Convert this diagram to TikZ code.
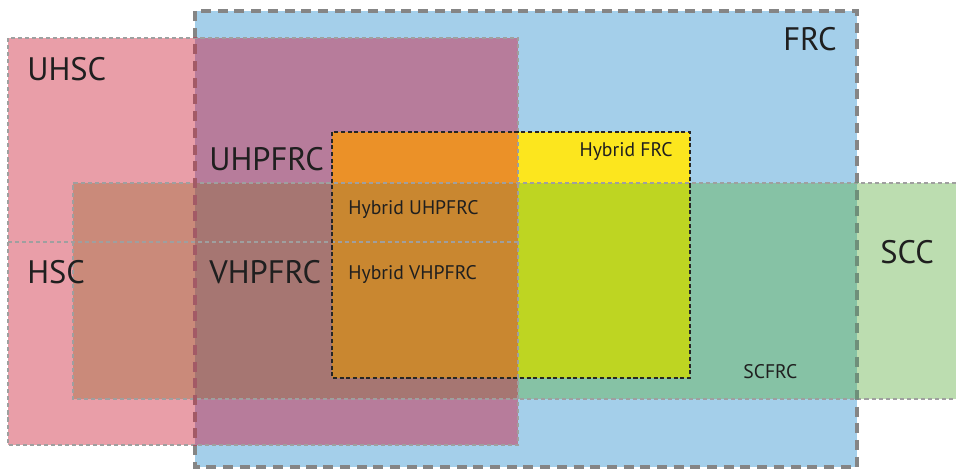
\documentclass[tikz,border=0pt]{standalone}
\usepackage{fontspec}
\setmainfont{PT Sans}
\definecolor{frcblue}{HTML}{A4CFEA}
\definecolor{hscpink}{HTML}{E99EA8}
\definecolor{sccgreen}{HTML}{BCDDB0}
\definecolor{uhpfrcmauve}{HTML}{B77C9B}
\definecolor{scfrcgreen}{HTML}{86C2A5}
\definecolor{hscsccbrown}{HTML}{CA8A7A}
\definecolor{vhpfrcbrown}{HTML}{A67672}
\definecolor{hybyellow}{HTML}{FCE61E}
\definecolor{hyborange}{HTML}{EB9128}
\definecolor{hyblime}{HTML}{BED522}
\definecolor{hybbrown}{HTML}{C98730}
\definecolor{edgegray}{HTML}{858585}
\definecolor{edgepink}{HTML}{A35A66}
\definecolor{edgegreen}{HTML}{6F8F7A}
\begin{document}
\begin{tikzpicture}[x=0.02cm,y=-0.02cm,
    thinedge/.style={draw=gray!75,line width=0.9pt,dash pattern=on 2.3pt off 1.7pt},
    frcedge/.style={line width=2.3pt,dash pattern=on 5.7pt off 3.8pt},
    hybedge/.style={draw=black!85,line width=1.3pt,dash pattern=on 2.3pt off 1.5pt},
    bigtag/.style={font=\fontsize{18.5}{20}\selectfont,text=black!88,inner sep=0pt},
    smalltag/.style={font=\fontsize{11.2}{13}\selectfont,text=black!88,inner sep=0pt}]
  \useasboundingbox (0,0) rectangle (956,472);

  % areas
  \fill[frcblue] (195,11) rectangle (857,467); %FRC
  \fill[hscpink] (8,38) rectangle (518,445); %UHSC, HSC
  \fill[sccgreen] (73,183) rectangle (956,399); %SCC
  \fill[uhpfrcmauve] (195,38) rectangle (518,445);
  \fill[scfrcgreen] (195,183) rectangle (857,399);
  \fill[hscsccbrown] (73,183) rectangle (195,399);
  \fill[vhpfrcbrown] (195,183) rectangle (518,399);
  \fill[hybyellow] (518,132) rectangle (690,183); %Hybrid
  \fill[hyborange] (332,132) rectangle (518,183);
  \fill[hyblime] (518,183) rectangle (690,378);
  \fill[hybbrown] (332,183) rectangle (518,378);

  % borders
  \draw[thinedge] (8,38) rectangle (518,445);
  \draw[thinedge] (8,242) -- (518,242);
  \draw[thinedge] (956,183) -- (73,183) -- (73,399) -- (956,399);
  \draw[hybedge] (332,132) rectangle (690,378);
  \draw[frcedge,draw=edgegray] (195,11) rectangle (857,467);
  \begin{scope}
    \clip (73,183) rectangle (956,399);
    \draw[frcedge,draw=edgegreen] (195,11) rectangle (857,467);
  \end{scope}
  \begin{scope}
    \clip (8,38) rectangle (518,445);
    \draw[frcedge,draw=edgepink] (195,11) rectangle (857,467);
  \end{scope}

  % labels
  \node[bigtag,anchor=west] (uhsc) at (27,69) {UHSC};
  \node[bigtag,anchor=east] (frc) at (837,39) {FRC};
  \node[bigtag,anchor=west] (uhpfrc) at (209,159) {UHPFRC};
  \node[bigtag,anchor=west] (hsc) at (27,272) {HSC};
  \node[bigtag,anchor=west] (vhpfrc) at (209,272) {VHPFRC};
  \node[bigtag,anchor=west] (scc) at (880,252) {SCC};
  \node[smalltag,anchor=east] (hybfrc) at (673,152) {Hybrid FRC};
  \node[smalltag,anchor=west] (hybuhpfrc) at (348,210) {Hybrid UHPFRC};
  \node[smalltag,anchor=west] (hybvhpfrc) at (348,275) {Hybrid VHPFRC};
  \node[smalltag,anchor=west] (scfrc) at (743,372) {SCFRC};
\end{tikzpicture}
\end{document}
